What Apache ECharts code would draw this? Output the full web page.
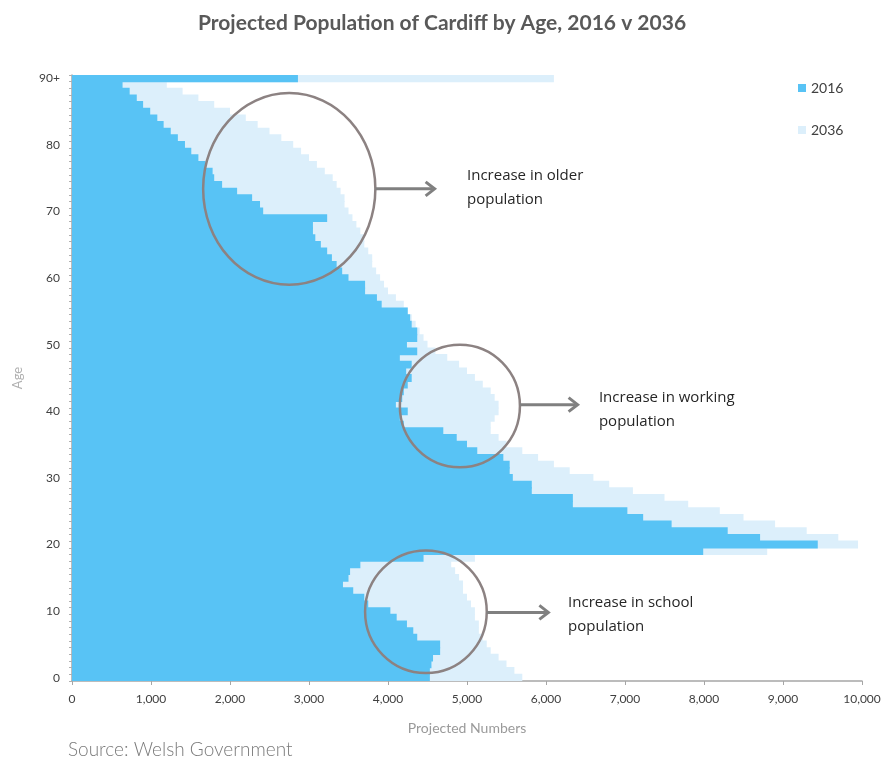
<!DOCTYPE html>
<html>
<head>
<meta charset="utf-8">
<script src="https://cdn.jsdelivr.net/npm/echarts@6/dist/echarts.min.js"></script>
<style>
  html, body { margin: 0; padding: 0; background: #fff; }
  #chart { width: 884px; height: 765px; }
</style>
</head>
<body>
<div id="chart"></div>
<script>
// ages 0 .. 90+ (bottom to top)
const ages = [];
for (let a = 0; a < 90; a++) ages.push(String(a));
ages.push('90+');

const pop2016 = [
  4530, 4530, 4550, 4570, 4660, 4660, 4370, 4320, 4240, 4110,
  4030, 3750, 3700, 3560, 3430, 3500, 3520, 3650, 4450, 7990,
  9440, 8710, 8300, 7590, 7230, 7030, 6340, 6340, 5820, 5820,
  5580, 5540, 5540, 5460, 5130, 5000, 4870, 4700, 4200, 4150,
  4250, 4100, 4180, 4200, 4250, 4300, 4230, 4300, 4150, 4370,
  4240, 4370, 4370, 4300, 4280, 4250, 3920, 3860, 3710, 3710,
  3500, 3420, 3350, 3290, 3230, 3150, 3080, 3050, 3050, 3230,
  2420, 2380, 2280, 2090, 1900, 1800, 1780, 1690, 1600, 1510,
  1430, 1340, 1250, 1160, 1080, 990, 900, 820, 730, 640,
  2860
];

const pop2036 = [
  5700, 5600, 5500, 5400, 5300, 5250, 5200, 5150, 5150, 5100,
  5100, 5050, 5000, 4950, 4950, 4900, 4850, 4800, 5100, 8800,
  9950, 9700, 9300, 8900, 8500, 8200, 7800, 7500, 7100, 6800,
  6600, 6300, 6100, 5900, 5700, 5500, 5400, 5300, 5300, 5350,
  5400, 5400, 5350, 5300, 5200, 5100, 5000, 4900, 4750, 4600,
  4500, 4450, 4400, 4350, 4300, 4250, 4200, 4100, 4000, 3950,
  3900, 3850, 3800, 3800, 3750, 3700, 3700, 3650, 3600, 3550,
  3500, 3450, 3450, 3400, 3350, 3300, 3200, 3100, 3000, 2900,
  2800, 2650, 2500, 2350, 2200, 2000, 1800, 1600, 1400, 1200,
  6100
];

// annotation anchors in data units: [value, age]
const callouts = [
  { centre: [2750, 73.4], rx: 1090, ry: 14.4, arrow: [3840, 4590, 73.4], text: 'Increase in older\npopulation', at: [5000, 73.5] },
  { centre: [4910, 40.8], rx: 760, ry: 9.2, arrow: [5670, 6400, 41.0], text: 'Increase in working\npopulation', at: [6670, 40.3] },
  { centre: [4480, 9.9], rx: 770, ry: 9.2, arrow: [5250, 6030, 9.8], text: 'Increase in school\npopulation', at: [6280, 9.4] }
];

const BLUE = '#58C3F5';
const LIGHT = '#DCEFFB';

const chart = echarts.init(document.getElementById('chart'));

chart.setOption({
  backgroundColor: '#fff',
  animation: false,
  title: {
    text: 'Projected Population of Cardiff by Age, 2016 v 2036',
    left: 'center',
    top: 8,
    textStyle: {
      fontFamily: 'Lato',
      fontSize: 21,
      fontWeight: 'bold',
      color: '#595959'
    }
  },
  legend: {
    data: ['2016', '2036'],
    orient: 'vertical',
    left: 793,
    top: 76,
    itemWidth: 8,
    itemHeight: 8,
    itemGap: 28,
    icon: 'rect',
    textStyle: { fontFamily: 'Lato', fontSize: 14, color: '#404040' }
  },
  grid: { left: 72, right: 22, top: 75, bottom: 84 },
  xAxis: {
    type: 'value',
    min: 0,
    max: 10000,
    interval: 1000,
    name: 'Projected Numbers',
    nameLocation: 'middle',
    nameGap: 40,
    nameTextStyle: { fontFamily: 'Lato', fontSize: 14, color: '#9a9a9a' },
    axisLine: { show: true, lineStyle: { color: '#a6a6a6', width: 1.5 } },
    axisTick: { show: true, length: 4, lineStyle: { color: '#a6a6a6' } },
    axisLabel: {
      fontFamily: 'Lato',
      fontSize: 12,
      color: '#404040',
      margin: 12,
      formatter: (v) => v.toLocaleString('en-GB')
    },
    splitLine: { show: false }
  },
  yAxis: {
    type: 'category',
    data: ages,
    name: 'Age',
    nameLocation: 'middle',
    nameGap: 48,
    nameRotate: 90,
    nameTextStyle: { fontFamily: 'Lato', fontSize: 13, color: '#b0b0b0' },
    axisLine: { show: true, lineStyle: { color: '#a6a6a6', width: 1.5 } },
    axisTick: { show: true, interval: 0, length: 3, lineStyle: { color: '#b0b0b0' } },
    axisLabel: {
      fontFamily: 'Lato',
      fontSize: 12,
      color: '#404040',
      margin: 12,
      interval: (idx) => idx % 10 === 0
    },
    splitLine: { show: false }
  },
  series: [
    {
      name: '2036',
      type: 'bar',
      data: pop2036,
      barWidth: 7.8,
      barGap: '-100%',
      itemStyle: { color: LIGHT },
      z: 1
    },
    {
      name: '2016',
      type: 'bar',
      data: pop2016,
      barWidth: 7.8,
      barGap: '-100%',
      itemStyle: { color: BLUE },
      z: 2
    }
  ]
});

// linear mapping from data units to pixels, taken from the axes
const p0 = chart.convertToPixel({ gridIndex: 0 }, [0, 0]);
const p1 = chart.convertToPixel({ gridIndex: 0 }, [10000, 90]);
const px = (v) => p0[0] + (p1[0] - p0[0]) * v / 10000;
const py = (a) => p0[1] + (p1[1] - p0[1]) * a / 90;
const sx = (p1[0] - p0[0]) / 10000;
const sy = Math.abs(p1[1] - p0[1]) / 90;

const graphics = [];
callouts.forEach(c => {
  graphics.push({
    type: 'ellipse',
    shape: { cx: px(c.centre[0]), cy: py(c.centre[1]), rx: c.rx * sx, ry: c.ry * sy },
    style: { fill: 'none', stroke: '#8c8282', lineWidth: 2.5 },
    z: 10
  });
  const ax0 = px(c.arrow[0]), ax1 = px(c.arrow[1]), ay = py(c.arrow[2]);
  graphics.push({
    type: 'line',
    shape: { x1: ax0, y1: ay, x2: ax1 - 2, y2: ay },
    style: { stroke: '#808080', lineWidth: 3 },
    z: 10
  });
  graphics.push({
    type: 'polyline',
    shape: { points: [[ax1 - 9, ay - 7], [ax1, ay], [ax1 - 9, ay + 7]] },
    style: { stroke: '#808080', lineWidth: 3, fill: 'none' },
    z: 10
  });
  graphics.push({
    type: 'text',
    x: px(c.at[0]),
    y: py(c.at[1]),
    style: {
      text: c.text,
      fontFamily: 'Open Sans',
      fontSize: 15,
      lineHeight: 24,
      fill: '#262626',
      verticalAlign: 'middle'
    },
    z: 10
  });
});

graphics.push({
  type: 'text',
  left: 68,
  top: 740,
  style: {
    text: 'Source: Welsh Government',
    fontFamily: 'Lato',
    fontWeight: 300,
    fontSize: 19,
    fill: '#7a7a7a'
  }
});

chart.setOption({ graphic: graphics });
</script>
</body>
</html>
